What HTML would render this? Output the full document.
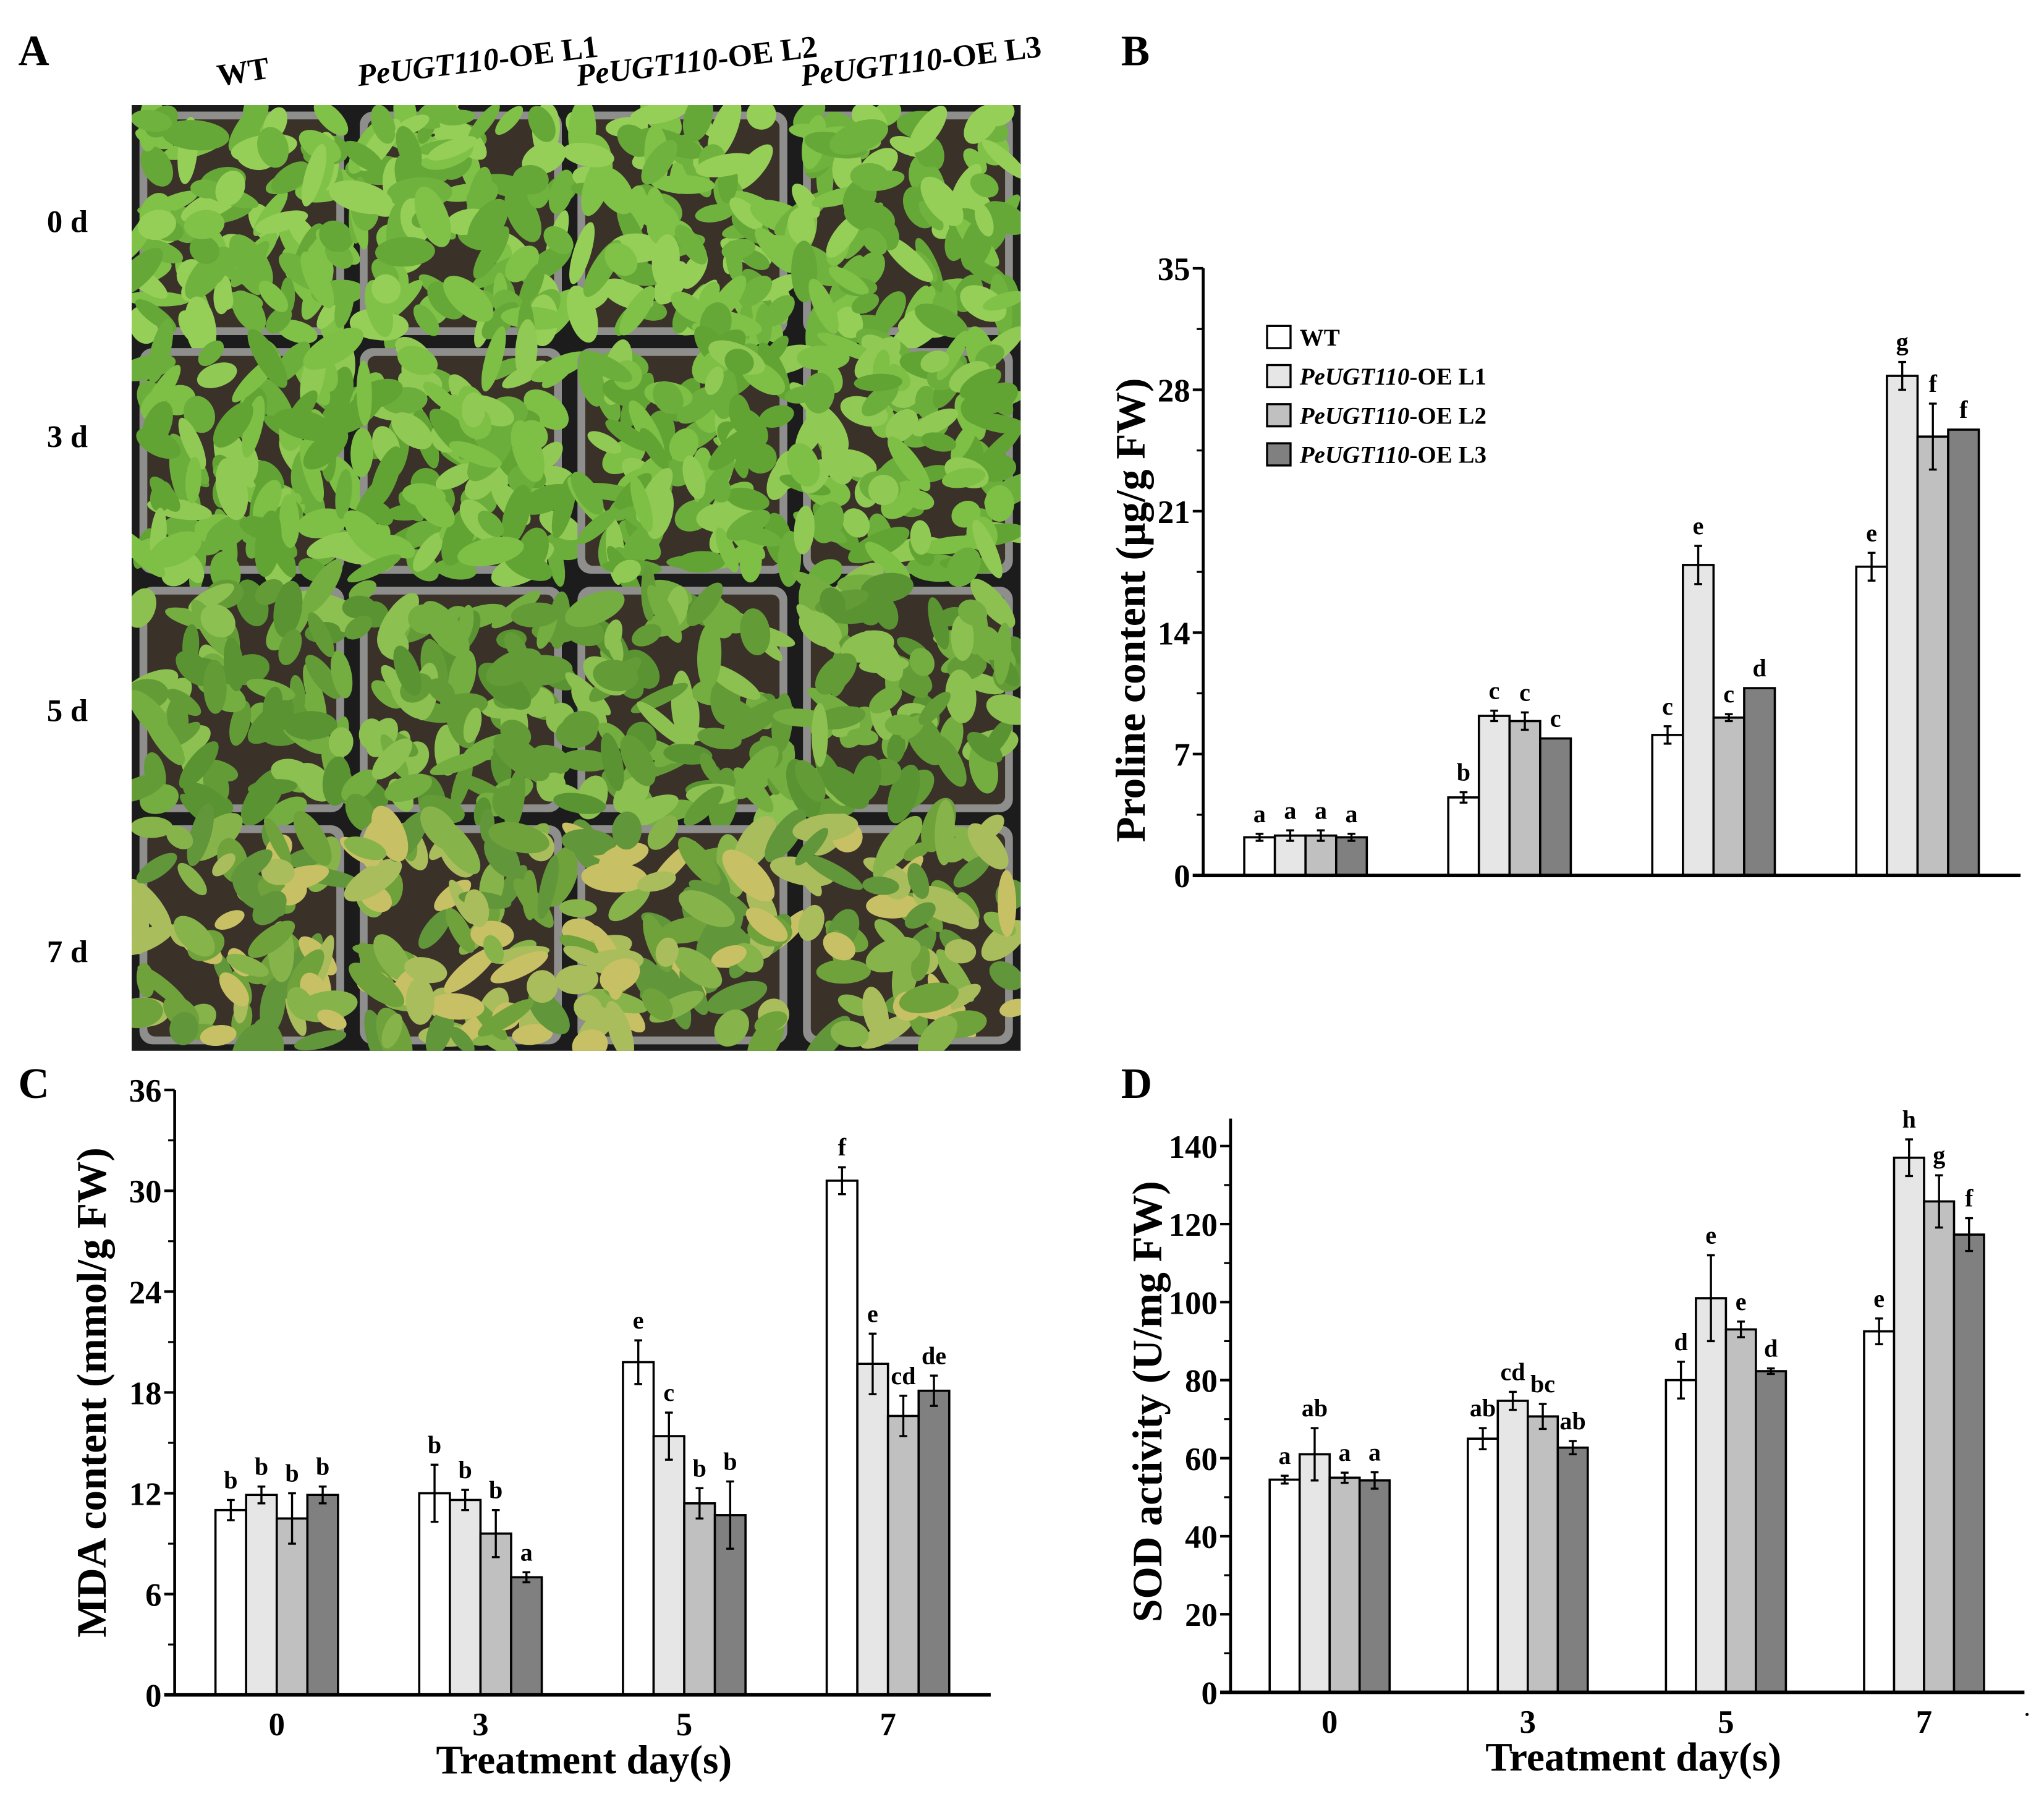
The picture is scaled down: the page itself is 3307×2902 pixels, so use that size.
<!DOCTYPE html>
<html><head><meta charset="utf-8"><title>PeUGT110 drought figure</title>
<style>
html,body{margin:0;padding:0;background:#fff;}
svg{display:block;}
text{font-family:"Liberation Serif",serif;font-weight:bold;fill:#000;}
</style></head>
<body>
<svg id="fig" xmlns="http://www.w3.org/2000/svg" width="3307" height="2902" viewBox="0 0 1568 1376" preserveAspectRatio="none">
  <defs><clipPath id="photoClip"><rect x="101" y="80.6" width="682" height="725.4"/></clipPath></defs>
  <rect x="0" y="0" width="1568" height="1376" fill="#fff"/>
  <g id="panelA">
    <text x="14" y="50" font-size="33">A</text>
    <text x="0" y="0" font-size="24" transform="translate(168,66) rotate(-9)">WT</text>
    <text x="0" y="0" font-size="24" transform="translate(275,66) rotate(-7)"><tspan font-style="italic">PeUGT110</tspan>-OE L1</text>
    <text x="0" y="0" font-size="24" transform="translate(443,66) rotate(-7)"><tspan font-style="italic">PeUGT110</tspan>-OE L2</text>
    <text x="0" y="0" font-size="24" transform="translate(615,66) rotate(-7)"><tspan font-style="italic">PeUGT110</tspan>-OE L3</text>
    <text x="36" y="178" font-size="24">0 d</text>
    <text x="36" y="343" font-size="24">3 d</text>
    <text x="36" y="553" font-size="24">5 d</text>
    <text x="36" y="738" font-size="24">7 d</text>
    <g id="photos" clip-path="url(#photoClip)"></g>
  </g>
  <g id="panelB"></g>
  <g id="panelC"></g>
  <g id="panelD"></g>
</svg>
<script>
// ---------- chart data ----------
const categories = ["0", "3", "5", "7"];
const seriesNames = ["WT", "PeUGT110-OE L1", "PeUGT110-OE L2", "PeUGT110-OE L3"];
const fills = ["#ffffff", "#e6e6e6", "#c0c0c0", "#808080"];

const prolineWT = [2.2, 4.5, 8.1, 17.8];
const prolineL1 = [2.3, 9.2, 17.9, 28.8];
const prolineL2 = [2.3, 8.9, 9.1, 25.3];
const prolineL3 = [2.2, 7.9, 10.8, 25.7];
const prolineErrWT = [0.2, 0.3, 0.5, 0.8];
const prolineErrL1 = [0.3, 0.3, 1.1, 0.8];
const prolineErrL2 = [0.3, 0.5, 0.2, 1.9];
const prolineErrL3 = [0.2, 0, 0, 0];
const prolineLetters = [["a","b","c","e"],["a","c","e","g"],["a","c","c","f"],["a","c","d","f"]];
const prolineTicks = [0, 7, 14, 21, 28, 35];

const mdaWT = [11.0, 12.0, 19.8, 30.6];
const mdaL1 = [11.9, 11.6, 15.4, 19.7];
const mdaL2 = [10.5, 9.6, 11.4, 16.6];
const mdaL3 = [11.9, 7.0, 10.7, 18.1];
const mdaErrWT = [0.6, 1.7, 1.3, 0.8];
const mdaErrL1 = [0.5, 0.6, 1.4, 1.8];
const mdaErrL2 = [1.5, 1.4, 0.9, 1.2];
const mdaErrL3 = [0.5, 0.3, 2.0, 0.9];
const mdaLetters = [["b","b","e","f"],["b","b","c","e"],["b","b","b","cd"],["b","a","b","de"]];
const mdaTicks = [0, 6, 12, 18, 24, 30, 36];

const sodWT = [54.5, 65, 80, 92.5];
const sodL1 = [61, 74.7, 101, 137];
const sodL2 = [55, 70.7, 93, 125.8];
const sodL3 = [54.3, 62.7, 82.3, 117.3];
const sodErrWT = [1, 2.7, 4.7, 3.3];
const sodErrL1 = [6.7, 2.3, 11, 4.7];
const sodErrL2 = [1.3, 3.2, 2, 6.7];
const sodErrL3 = [2.1, 1.7, 0.7, 4.2];
const sodLetters = [["a","ab","d","e"],["ab","cd","e","h"],["a","bc","e","g"],["a","ab","d","f"]];
const sodTicks = [0, 20, 40, 60, 80, 100, 120, 140];

const NS = "http://www.w3.org/2000/svg";
function mk(parent, tag, attrs) {
  const el = document.createElementNS(NS, tag);
  for (const k in attrs) el.setAttribute(k, attrs[k]);
  parent.appendChild(el);
  return el;
}

function drawChart(g, cfg) {
  const yScale = v => cfg.y0 - (v - cfg.vmin) / (cfg.vmax - cfg.vmin) * (cfg.y0 - cfg.yTop);
  const xCenter = i => cfg.c0 + i * cfg.step;
  const bw = cfg.bw;
  cfg.series.forEach((vals, s) => {
    vals.forEach((v, i) => {
      const x = xCenter(i) - 2 * bw + s * bw;
      const y = yScale(v);
      const r = mk(g, "rect", {x: x, y: y, width: bw, height: cfg.y0 - y, fill: fills[s], stroke: "#000", "stroke-width": 1.7});
      
      
      const e = cfg.errs[s][i];
      const cx = x + bw / 2;
      if (e > 0) {
        const eb = mk(g, "path", {d: `M${cx},${yScale(v - e)}V${yScale(v + e)}M${cx - 3},${yScale(v - e)}h6M${cx - 3},${yScale(v + e)}h6`, stroke: "#000", "stroke-width": 1.6, fill: "none"});
        
        
      }
      const t = mk(g, "text", {x: cx, y: yScale(v + e) - 9, "font-size": 19, "text-anchor": "middle"});
      t.textContent = cfg.letters[s][i];
      
      
    });
  });
  const ya = mk(g, "line", {x1: cfg.ax, y1: cfg.axTop, x2: cfg.ax, y2: cfg.y0, stroke: "#000", "stroke-width": 2.2});
  
  
  const xa = mk(g, "line", {x1: cfg.ax - 8, y1: cfg.y0, x2: cfg.xEnd, y2: cfg.y0, stroke: "#000", "stroke-width": 2.7});
  
  
  cfg.ticks.forEach((tv, k) => {
    const y = yScale(tv);
    const tk = mk(g, "line", {x1: cfg.ax - 8, y1: y, x2: cfg.ax, y2: y, stroke: "#000", "stroke-width": 2});
    
    
    const lb = mk(g, "text", {x: cfg.ax - 10, y: y + 9, "font-size": 25, "text-anchor": "end"});
    lb.textContent = tv;
    
    
    if (k < cfg.ticks.length - 1) {
      const ym = yScale((tv + cfg.ticks[k + 1]) / 2);
      const mt = mk(g, "line", {x1: cfg.ax - 5, y1: ym, x2: cfg.ax, y2: ym, stroke: "#000", "stroke-width": 1.5});
      
      
    }
  });
  if (cfg.xLabels) {
    categories.forEach((c, i) => {
      const t = mk(g, "text", {x: xCenter(i), y: cfg.y0 + 31, "font-size": 25, "text-anchor": "middle"});
      t.textContent = c;
      
      
    });
    const xt = mk(g, "text", {x: cfg.xTitleX, y: cfg.y0 + 60, "font-size": 31, "text-anchor": "middle"});
    xt.textContent = "Treatment day(s)";
    
    
  }
  const yt = mk(g, "text", {x: 0, y: 0, "font-size": 32, "text-anchor": "middle", transform: `translate(${cfg.yTitleX},${cfg.yTitleY}) rotate(-90)`});
  yt.textContent = cfg.yTitle;
  
  
  const pl = mk(g, "text", {x: cfg.plx, y: cfg.ply, "font-size": 33});
  pl.textContent = cfg.panel;
  
  
}

drawChart(document.getElementById("panelB"), {
  key: "proline", panel: "B", plx: 860, ply: 50,
  series: [prolineWT, prolineL1, prolineL2, prolineL3],
  errs: [prolineErrWT, prolineErrL1, prolineErrL2, prolineErrL3],
  letters: prolineLetters, ticks: prolineTicks,
  vmin: 0, vmax: 35, y0: 671.5, yTop: 205.8, axTop: 205.8, ax: 923, xEnd: 1550,
  c0: 1001.5, step: 156.5, bw: 23.5, xLabels: false,
  yTitle: "Proline content (\u03bcg/g FW)", yTitleX: 878, yTitleY: 468
});
drawChart(document.getElementById("panelC"), {
  key: "mda", panel: "C", plx: 14, ply: 842,
  series: [mdaWT, mdaL1, mdaL2, mdaL3],
  errs: [mdaErrWT, mdaErrL1, mdaErrL2, mdaErrL3],
  letters: mdaLetters, ticks: mdaTicks,
  vmin: 0, vmax: 36, y0: 1300, yTop: 836, axTop: 836, ax: 134, xEnd: 760,
  c0: 212.3, step: 156.3, bw: 23.5, xLabels: true, xTitleX: 448,
  yTitle: "MDA content (mmol/g FW)", yTitleX: 81, yTitleY: 1068
});
drawChart(document.getElementById("panelD"), {
  key: "sod", panel: "D", plx: 860, ply: 842,
  series: [sodWT, sodL1, sodL2, sodL3],
  errs: [sodErrWT, sodErrL1, sodErrL2, sodErrL3],
  letters: sodLetters, ticks: sodTicks,
  vmin: 0, vmax: 140, y0: 1298, yTop: 879, axTop: 858, ax: 944, xEnd: 1553,
  c0: 1020, step: 152, bw: 23, xLabels: true, xTitleX: 1253,
  yTitle: "SOD activity (U/mg FW)", yTitleX: 891, yTitleY: 1075
});
(function(){
  const d = mk(document.getElementById("panelD"), "circle", {cx: 1555, cy: 1315, r: 1.2, fill: "#000"});
  
  
})();

(function(){
  const g = document.getElementById("panelB");
  const ly = [250, 280, 310, 340];
  seriesNames.forEach((n, s) => {
    const r = mk(g, "rect", {x: 972, y: ly[s], width: 18, height: 17, fill: fills[s], stroke: "#000", "stroke-width": 1.6});
    
    
    const t = mk(g, "text", {x: 997, y: ly[s] + 15, "font-size": 18.5});
    if (s === 0) { t.textContent = "WT"; }
    else {
      const it = mk(t, "tspan", {"font-style": "italic"});
      it.textContent = "PeUGT110";
      const rest = mk(t, "tspan", {});
      rest.textContent = "-OE L" + s;
    }
    
    
  });
})();

(function(){
  const g = document.getElementById("photos");
  const cols = [101, 270, 437, 610, 783];
  const rows = [80.6, 262, 445, 628, 806];
  let seed = 12345;
  const rnd = () => { seed = (seed * 16807) % 2147483647; return seed / 2147483647; };
  const bgr = mk(g, "rect", {x: 101, y: 80.6, width: 682, height: 725.4, fill: "#1c1c1c"});
  
  
  const leafCols = [["#80c248","#6fb23d","#95cf58","#66a838"],["#7ec045","#6cae3b","#90ca54","#62a434"],
                    ["#74ae40","#639c36","#8cc050","#5a9432"],["#86b44a","#70a23c","#a9bd5c","#62963a"]];
  for (let r = 0; r < 4; r++) {
    for (let c = 0; c < 4; c++) {
      const x = cols[c], y = rows[r], w = cols[c+1] - cols[c], h = rows[r+1] - rows[r];
      const pot = mk(g, "rect", {x: x + 6, y: y + 5, width: w - 12, height: h - 10, rx: 10, fill: "#8e8e8c"});
      
      
      const soil = mk(g, "rect", {x: x + 12, y: y + 11, width: w - 24, height: h - 22, rx: 6, fill: "#3a3229"});
      
      
      const n = r < 2 ? 95 : (r === 2 ? 80 : 70);
      for (let k = 0; k < n; k++) {
        const lx = x + 4 + rnd() * (w - 8), ly = y + 4 + rnd() * (h - 8);
        const rx = 11 + rnd() * 15, ry = 5.5 + rnd() * 6.5, ang = rnd() * 180;
        let col = leafCols[r][Math.floor(rnd() * 4)];
        if (r === 3 && rnd() < 0.18) col = "#c8c064";
        const e = mk(g, "ellipse", {cx: lx, cy: ly, rx: rx, ry: ry, fill: col, transform: `rotate(${ang},${lx},${ly})`});
        
        
      }
    }
  }
})();
</script>
</body></html>
